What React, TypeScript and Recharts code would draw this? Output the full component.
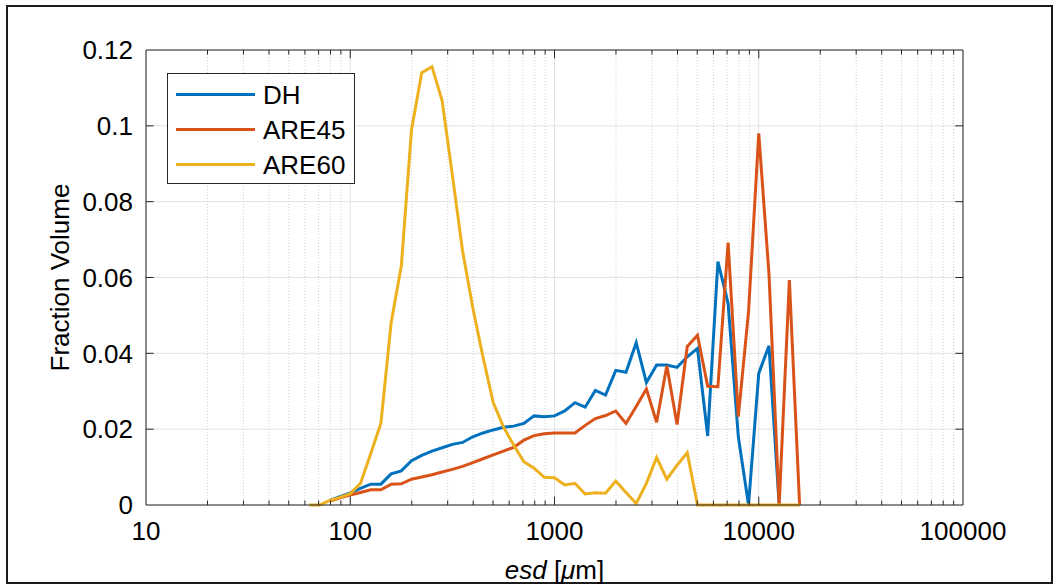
import { LineChart, Line, XAxis, YAxis, CartesianGrid, ReferenceLine, Legend } from 'recharts';

// bin centres (esd, µm), 20 bins per decade
const esd = [
  63.1, 70.8, 79.4, 89.1, 100, 112.2, 125.9, 141.3, 158.5, 177.8,
  199.5, 223.9, 251.2, 281.8, 316.2, 354.8, 398.1, 446.7, 501.2, 562.3,
  631, 707.9, 794.3, 891.3, 1000, 1122, 1259, 1413, 1585, 1778,
  1995, 2239, 2512, 2818, 3162, 3548, 3981, 4467, 5012, 5623,
  6310, 7079, 7943, 8913, 10000, 11220, 12589, 14125, 15849,
];

const dh = [
  null, null, 0.0012, 0.0022, 0.0032, 0.0044, 0.0055, 0.0055, 0.0082, 0.009,
  0.0117, 0.0131, 0.0142, 0.0151, 0.016, 0.0165, 0.018, 0.019, 0.0198, 0.0205,
  0.0208, 0.0215, 0.0235, 0.0233, 0.0235, 0.0248, 0.027, 0.0258, 0.0302, 0.029,
  0.0355, 0.035, 0.0428, 0.0323, 0.0369, 0.0369, 0.0363, 0.0391, 0.0413, 0.0182,
  0.0642, 0.0532, 0.018, 0, 0.0347, 0.042, 0, null, null,
];

const are45 = [
  null, null, 0.001, 0.0019, 0.0026, 0.0033, 0.004, 0.004, 0.0055, 0.0056,
  0.0068, 0.0074, 0.008, 0.0087, 0.0094, 0.0102, 0.0112, 0.0122, 0.0132, 0.0142,
  0.0152, 0.0171, 0.0183, 0.0188, 0.019, 0.019, 0.019, 0.021, 0.0228, 0.0236,
  0.0248, 0.0215, 0.026, 0.0306, 0.0218, 0.0367, 0.0212, 0.0418, 0.0448, 0.0313,
  0.0312, 0.0692, 0.0233, 0.051, 0.098, 0.061, 0, 0.0593, 0,
];

const are60 = [
  0, 0, 0.0012, 0.002, 0.003, 0.0057, 0.0135, 0.0216, 0.048, 0.063,
  0.099, 0.114, 0.1156, 0.1066, 0.087, 0.067, 0.052, 0.039, 0.027, 0.0206,
  0.0158, 0.0114, 0.0097, 0.0073, 0.0072, 0.0053, 0.0057, 0.0029, 0.0032, 0.0031,
  0.0063, 0.0033, 0.0004, 0.0057, 0.0125, 0.0068, 0.0105, 0.0138, 0, 0,
  0, 0, 0, 0, 0, 0, 0, 0, 0,
];

const xTicks = [10, 100, 1000, 10000, 100000];
const yTicks = [0, 0.02, 0.04, 0.06, 0.08, 0.1, 0.12];
const decades = [10, 100, 1000, 10000];
const minorSteps = [2, 3, 4, 5, 6, 7, 8, 9];

const series = [
  { key: 'DH', color: '#0072BD' },
  { key: 'ARE45', color: '#D95319' },
  { key: 'ARE60', color: '#EDB120' },
];

const FONT = '"Liberation Sans", Arial, Helvetica, sans-serif';
const INK = '#262626';

const data = esd.map((x, i) => ({ esd: x, DH: dh[i], ARE45: are45[i], ARE60: are60[i] }));
const minorX = decades.flatMap(d => minorSteps.map(m => d * m));

function LegendBox() {
  return (
    <div style={{ border: `1px solid ${INK}`, background: '#fff', width: 188, height: 111, boxSizing: 'border-box', paddingTop: 3, fontFamily: FONT }}>
      {series.map(s => (
        <div key={s.key} style={{ height: 35, display: 'flex', alignItems: 'center' }}>
          <div style={{ width: 79, height: 3, background: s.color, marginLeft: 8, marginRight: 8 }} />
          <span style={{ fontSize: 26, color: '#000', lineHeight: '26px' }}>{s.key}</span>
        </div>
      ))}
    </div>
  );
}

function XLabel(props: any) {
  const vb = props.viewBox;
  return (
    <text x={vb.x + vb.width / 2} y={vb.y + 74} textAnchor="middle" fontSize={26} fontFamily={FONT} fill="#000">
      <tspan fontStyle="italic">esd</tspan>
      <tspan> [</tspan>
      <tspan fontStyle="italic">μ</tspan>
      <tspan>m]</tspan>
    </text>
  );
}

function YLabel() {
  return (
    <text x={69} y={277.5} transform="rotate(-90, 69, 277.5)" textAnchor="middle" fontSize={26} fontFamily={FONT} fill="#000">
      Fraction Volume
    </text>
  );
}

export default function App() {
  return (
    <div style={{ position: 'absolute', left: 0, top: 0, width: 1055, height: 585, background: '#fff' }}>
      <div style={{ position: 'absolute', left: 6, top: 5, width: 1047, height: 579, border: '2px solid #1a1a1a', boxSizing: 'border-box' }} />
      <LineChart width={1055} height={585} data={data} margin={{ top: 50, right: 92, bottom: 40, left: 0 }}>
        <CartesianGrid stroke="#e2e2e2" strokeWidth={1} />
        {minorX.map(v => (
          <ReferenceLine key={'g' + v} x={v} stroke="#cfcfcf" strokeDasharray="1 2" />
        ))}
        <XAxis
          dataKey="esd"
          type="number"
          scale="log"
          domain={[10, 100000]}
          ticks={xTicks}
          allowDataOverflow
          height={40}
          tickSize={0}
          tickMargin={17}
          tickLine={false}
          axisLine={{ stroke: INK }}
          tick={{ fontSize: 26, fontFamily: FONT, fill: '#000' }}
          label={{ content: XLabel }}
        />
        <YAxis
          type="number"
          domain={[0, 0.12]}
          ticks={yTicks}
          width={146}
          tickSize={0}
          tickMargin={13}
          tickLine={false}
          axisLine={{ stroke: INK }}
          tickFormatter={(v: number) => String(+v.toFixed(2))}
          tick={{ fontSize: 26, fontFamily: FONT, fill: '#000' }}
          label={{ content: YLabel }}
        />
        <ReferenceLine y={0.12} stroke={INK} />
        <ReferenceLine x={100000} stroke={INK} />
        {series.map(s => (
          <Line
            key={s.key}
            type="linear"
            dataKey={s.key}
            stroke={s.color}
            strokeWidth={3}
            dot={false}
            activeDot={false}
            isAnimationActive={false}
            legendType="line"
          />
        ))}
        {xTicks.slice(1, -1).map(v => (
          <ReferenceLine key={'tb' + v} segment={[{ x: v, y: 0 }, { x: v, y: 0.0022 }]} stroke={INK} />
        ))}
        {xTicks.slice(1, -1).map(v => (
          <ReferenceLine key={'tt' + v} segment={[{ x: v, y: 0.12 }, { x: v, y: 0.1178 }]} stroke={INK} />
        ))}
        {minorX.map(v => (
          <ReferenceLine key={'mb' + v} segment={[{ x: v, y: 0 }, { x: v, y: 0.0012 }]} stroke={INK} />
        ))}
        {minorX.map(v => (
          <ReferenceLine key={'mt' + v} segment={[{ x: v, y: 0.12 }, { x: v, y: 0.1188 }]} stroke={INK} />
        ))}
        {yTicks.slice(1, -1).map(v => (
          <ReferenceLine key={'yl' + v} segment={[{ x: 10, y: v }, { x: 10.9, y: v }]} stroke={INK} />
        ))}
        {yTicks.slice(1, -1).map(v => (
          <ReferenceLine key={'yr' + v} segment={[{ x: 91700, y: v }, { x: 100000, y: v }]} stroke={INK} />
        ))}
        <Legend
          layout="vertical"
          align="center"
          verticalAlign="middle"
          content={() => <LegendBox />}
          wrapperStyle={{ left: 167, top: 73, width: 188, height: 111 }}
        />
      </LineChart>
    </div>
  );
}
